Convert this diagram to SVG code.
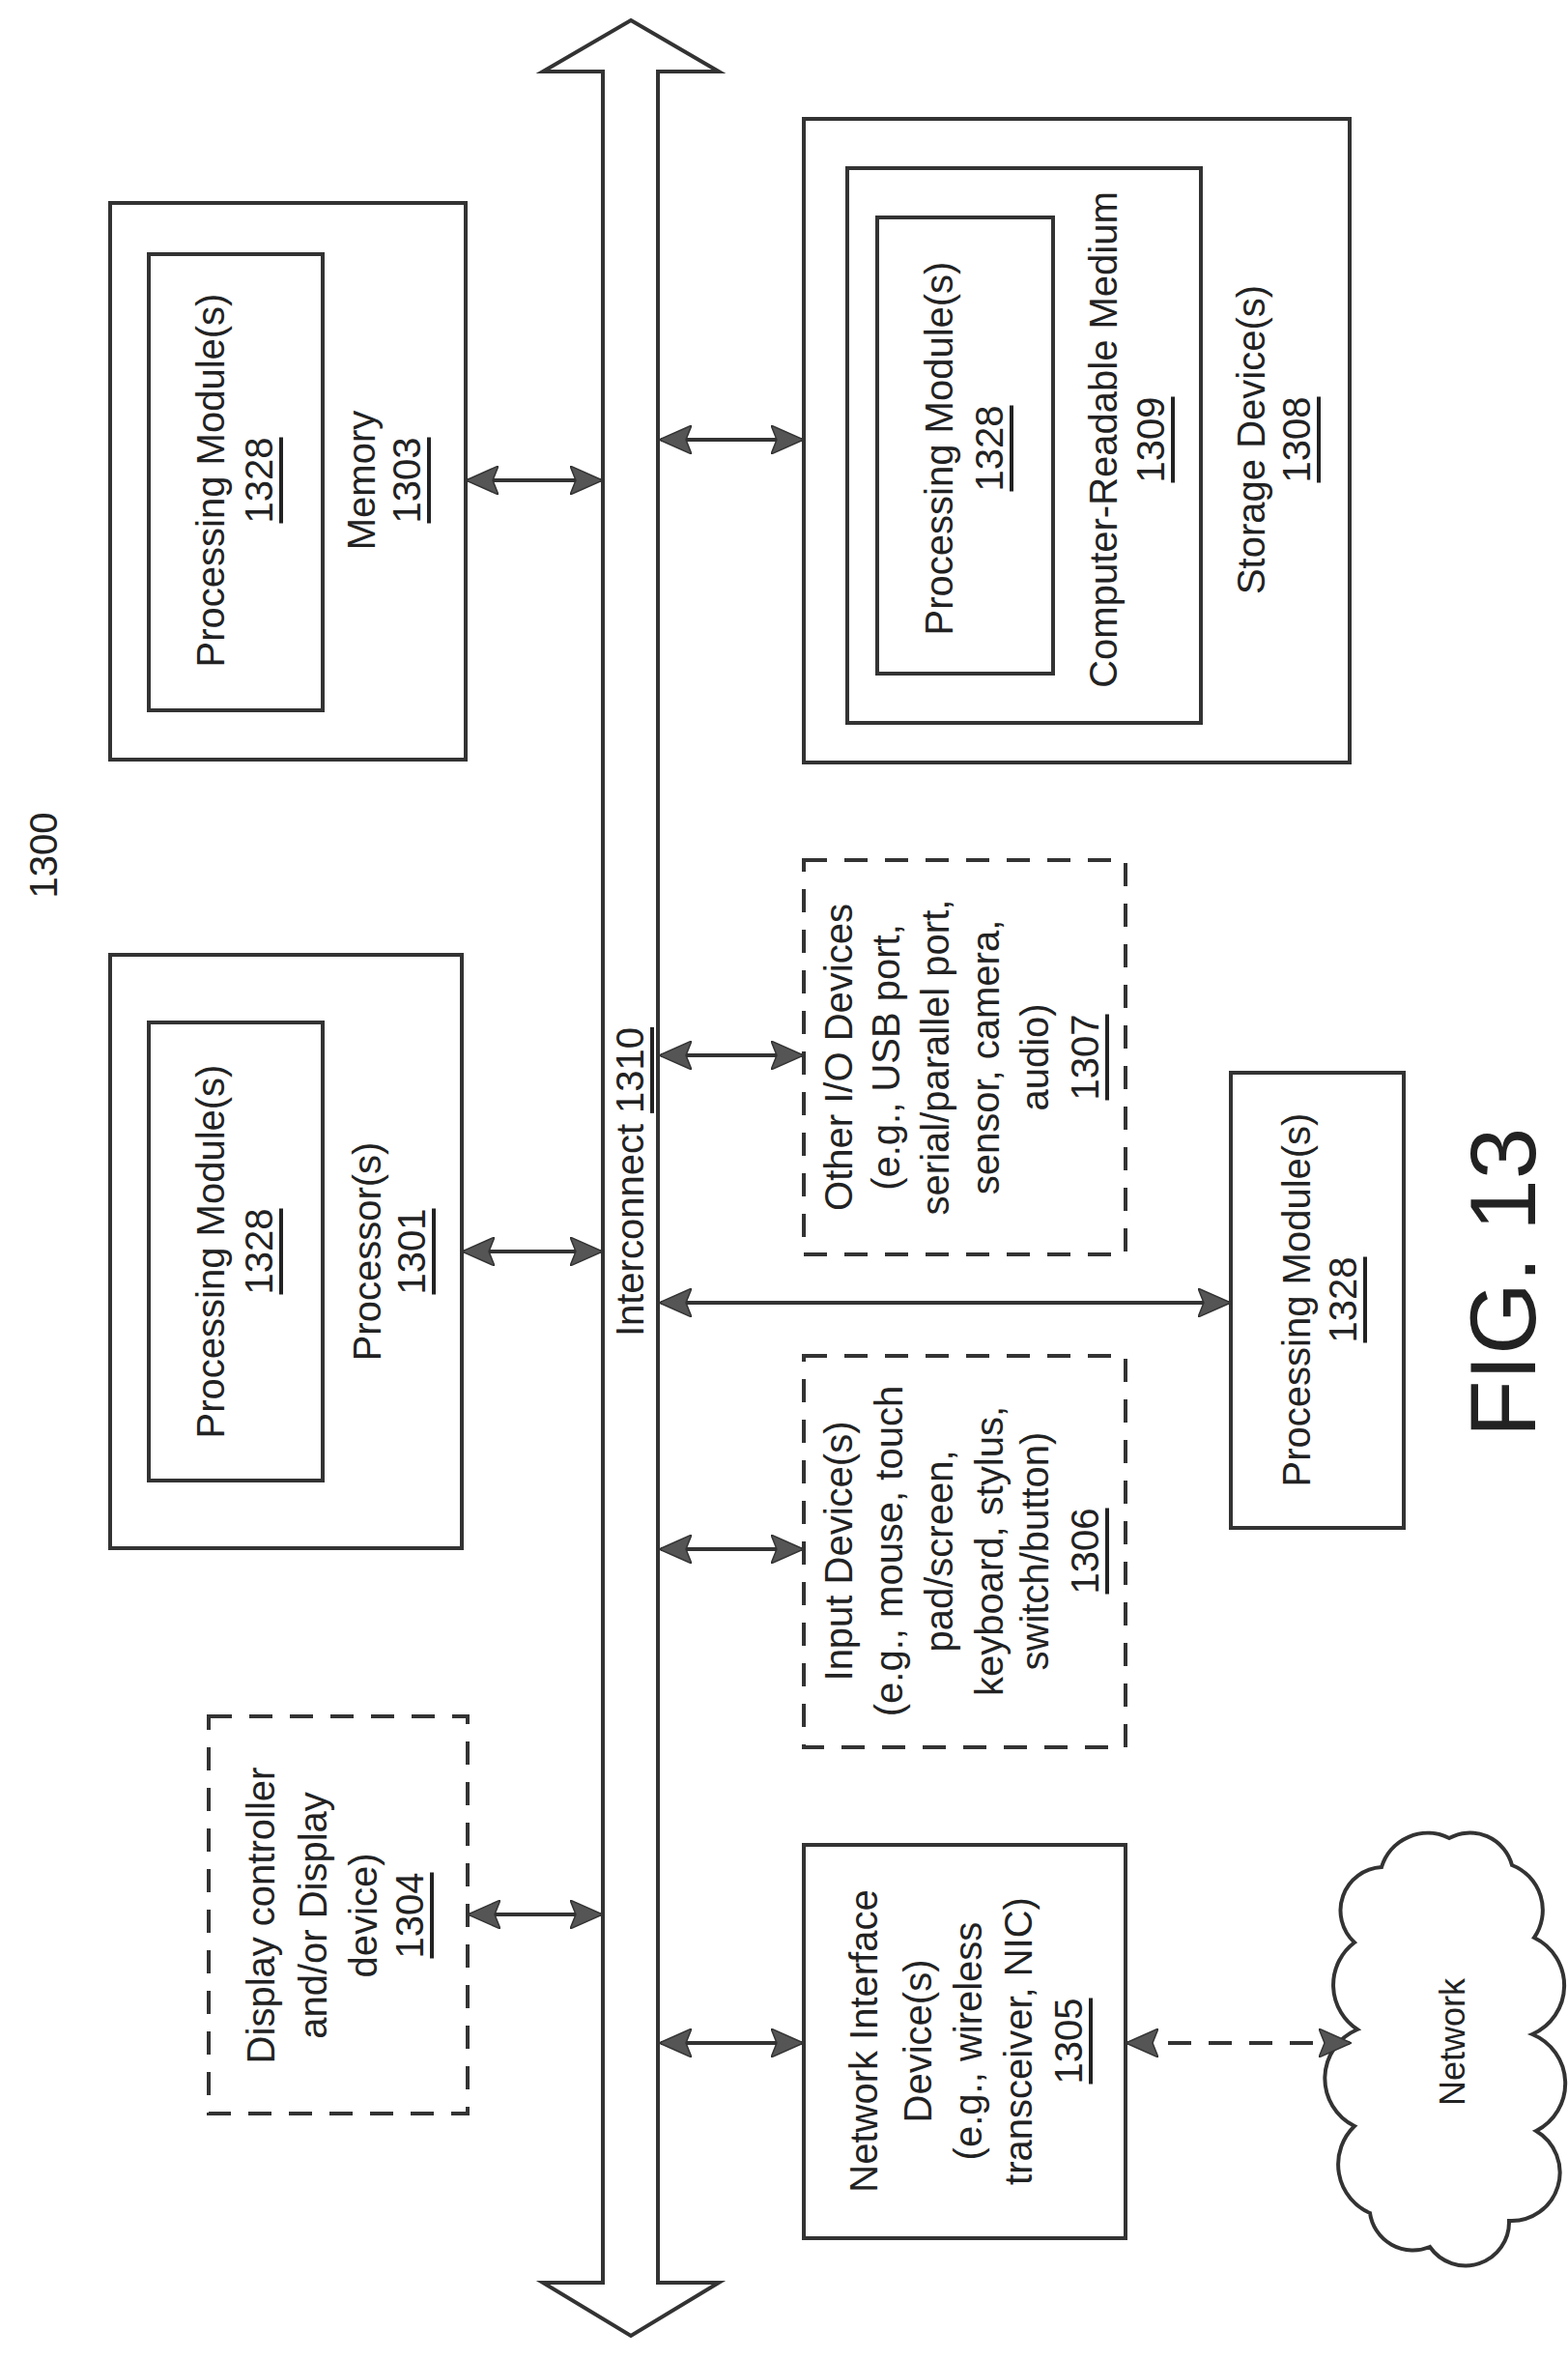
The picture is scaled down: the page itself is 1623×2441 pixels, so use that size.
<svg xmlns="http://www.w3.org/2000/svg" width="1623" height="2441" viewBox="0 0 1623 2441">
<style>
text{font-family:"Liberation Sans",Arial,sans-serif;font-size:40px;fill:#222;text-anchor:middle;dominant-baseline:central}
.u{text-decoration:underline}
.box{fill:none;stroke:#333;stroke-width:4}
.dash{fill:none;stroke:#333;stroke-width:4;stroke-dasharray:24 18}
.con{stroke:#333;stroke-width:4;fill:none;marker-start:url(#ah);marker-end:url(#ah)}
</style>
<defs>
<marker id="ah" markerUnits="userSpaceOnUse" markerWidth="34" markerHeight="30" refX="32" refY="15" orient="auto-start-reverse">
<path d="M0,0 L34,15 L0,30 L6,15 Z" fill="#555" stroke="#333" stroke-width="1.5"/>
</marker>
</defs>
<g id="bus">
<path d="M653,21 L744,74 L681,74 L681,2362 L744,2362 L653,2417 L562,2362 L624,2362 L624,74 L562,74 Z" fill="#fff" stroke="#333" stroke-width="4"/>
<text transform="translate(652,1223) rotate(-90)">Interconnect <tspan class="u">1310</tspan></text>
</g>
<g id="label1300"><text transform="translate(45,885) rotate(-90)">1300</text></g>
<g id="memory">
<rect class="box" x="114" y="210" width="368" height="576"/>
<rect class="box" x="154" y="263" width="180" height="472"/>
<text transform="translate(218,497) rotate(-90)">Processing Module(s)</text>
<text class="u" transform="translate(268,497) rotate(-90)">1328</text>
<text transform="translate(374,497) rotate(-90)">Memory</text>
<text class="u" transform="translate(421,497) rotate(-90)">1303</text>
</g>
<g id="processor">
<rect class="box" x="114" y="988" width="364" height="614"/>
<rect class="box" x="154" y="1058" width="180" height="474"/>
<text transform="translate(218,1295) rotate(-90)">Processing Module(s)</text>
<text class="u" transform="translate(268,1295) rotate(-90)">1328</text>
<text transform="translate(380,1295) rotate(-90)">Processor(s)</text>
<text class="u" transform="translate(426,1295) rotate(-90)">1301</text>
</g>
<g id="display">
<rect class="dash" x="216" y="1776" width="268" height="411"/>
<text transform="translate(270,1982) rotate(-90)">Display controller</text>
<text transform="translate(324,1982) rotate(-90)">and/or Display</text>
<text transform="translate(376,1982) rotate(-90)">device)</text>
<text class="u" transform="translate(424,1982) rotate(-90)">1304</text>
</g>
<g id="storage">
<rect class="box" x="832" y="123" width="565" height="666"/>
<rect class="box" x="877" y="174" width="366" height="574"/>
<rect class="box" x="908" y="225" width="182" height="472"/>
<text transform="translate(972,464) rotate(-90)">Processing Module(s)</text>
<text class="u" transform="translate(1024,464) rotate(-90)">1328</text>
<text transform="translate(1142,455) rotate(-90)">Computer-Readable Medium</text>
<text class="u" transform="translate(1191,455) rotate(-90)">1309</text>
<text transform="translate(1295,455) rotate(-90)">Storage Device(s)</text>
<text class="u" transform="translate(1342,455) rotate(-90)">1308</text>
</g>
<g id="otherio">
<rect class="dash" x="832" y="890" width="333" height="408"/>
<text transform="translate(868,1094) rotate(-90)">Other I/O Devices</text>
<text transform="translate(917,1094) rotate(-90)">(e.g., USB port,</text>
<text transform="translate(968,1094) rotate(-90)">serial/parallel port,</text>
<text transform="translate(1020,1094) rotate(-90)">sensor, camera,</text>
<text transform="translate(1071,1094) rotate(-90)">audio)</text>
<text class="u" transform="translate(1123,1094) rotate(-90)">1307</text>
</g>
<g id="input">
<rect class="dash" x="832" y="1403" width="333" height="405"/>
<text transform="translate(868,1605) rotate(-90)">Input Device(s)</text>
<text transform="translate(920,1605) rotate(-90)">(e.g., mouse, touch</text>
<text transform="translate(972,1605) rotate(-90)">pad/screen,</text>
<text transform="translate(1024,1605) rotate(-90)">keyboard, stylus,</text>
<text transform="translate(1071,1605) rotate(-90)">switch/button)</text>
<text class="u" transform="translate(1123,1605) rotate(-90)">1306</text>
</g>
<g id="netif">
<rect class="box" x="832" y="1909" width="333" height="407"/>
<text transform="translate(894,2112) rotate(-90)">Network Interface</text>
<text transform="translate(950,2112) rotate(-90)">Device(s)</text>
<text transform="translate(1002,2112) rotate(-90)">(e.g., wireless</text>
<text transform="translate(1054,2112) rotate(-90)">transceiver, NIC)</text>
<text class="u" transform="translate(1106,2112) rotate(-90)">1305</text>
</g>
<g id="pm1328">
<rect class="box" x="1274" y="1110" width="179" height="471"/>
<text transform="translate(1342,1345) rotate(-90)">Processing Module(s)</text>
<text class="u" transform="translate(1390,1345) rotate(-90)">1328</text>
</g>
<g id="network">
<path d="M1430,1932 A50,50 0 0 1 1500,1902 A45,45 0 0 1 1565,1930 A50,50 0 0 1 1588,2005 A55,55 0 0 1 1586,2105 A55,55 0 0 1 1590,2205 A50,50 0 0 1 1562,2298 A45,45 0 0 1 1480,2325 A45,45 0 0 1 1418,2290 A55,55 0 0 1 1402,2200 A55,55 0 0 1 1405,2100 A55,55 0 0 1 1402,2010 A45,45 0 0 1 1430,1932 Z" class="box" fill="#fff"/>
<text transform="translate(1503,2113) rotate(-90)" style="font-size:36px">Network</text>
</g>
<g id="fig"><text transform="translate(1555,1327) rotate(-90)" style="font-size:96px">FIG. 13</text></g>
<g id="connectors">
<line class="con" x1="484" y1="497" x2="622" y2="497"/>
<line class="con" x1="684" y1="455" x2="830" y2="455"/>
<line class="con" x1="480" y1="1295" x2="622" y2="1295"/>
<line class="con" x1="684" y1="1092" x2="830" y2="1092"/>
<line class="con" x1="684" y1="1348" x2="1272" y2="1348"/>
<line class="con" x1="684" y1="1603" x2="830" y2="1603"/>
<line class="con" x1="486" y1="1981" x2="622" y2="1981"/>
<line class="con" x1="684" y1="2114" x2="830" y2="2114"/>
<line class="con" x1="1167" y1="2114" x2="1397" y2="2114" stroke-dasharray="24 18"/>
</g>
</svg>
